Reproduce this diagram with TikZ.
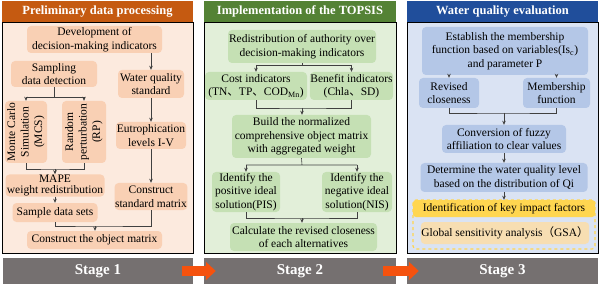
\documentclass[tikz,border=0pt]{standalone}
\usepackage{fontspec}
\setmainfont{Liberation Serif}
\newfontfamily\cjk{Noto Sans CJK SC}
\usetikzlibrary{arrows.meta}
\definecolor{orgT}{RGB}{197,90,17}
\definecolor{orgB}{RGB}{252,234,222}
\definecolor{orgN}{RGB}{249,208,180}
\definecolor{grnT}{RGB}{84,130,53}
\definecolor{grnB}{RGB}{226,239,217}
\definecolor{grnN}{RGB}{197,224,180}
\definecolor{bluT}{RGB}{32,78,155}
\definecolor{bluB}{RGB}{218,227,243}
\definecolor{bluN}{RGB}{180,199,231}
\definecolor{yelB}{RGB}{255,214,80}
\definecolor{tanN}{RGB}{247,222,178}
\definecolor{stgC}{RGB}{117,112,112}
\definecolor{arrC}{RGB}{245,82,14}
\tikzset{>={Stealth[length=4pt,width=3.5pt]},every node/.style={font=\fontsize{11.5}{13.5}\selectfont},
box/.style={rounded corners=4pt,align=center,inner sep=0.5pt},
obox/.style={box,fill=orgN},gbox/.style={box,fill=grnN},bbox/.style={box,fill=bluN},
ttl/.style={text=white,font=\fontsize{12.5}{14}\selectfont\bfseries,inner sep=0pt,minimum height=21pt},
stg/.style={fill=stgC,text=white,font=\fontsize{15}{17}\selectfont\bfseries,inner sep=0pt,minimum height=26pt},
flow/.style={->,line width=.6pt,draw=black!75},link/.style={line width=.6pt,draw=black!75},
bigarr/.style={-{Triangle[length=10pt,width=18pt]},line width=10pt,draw=arrC}}

\begin{document}
\begin{tikzpicture}[x=1pt,y=-1pt]
\useasboundingbox (0,0) rectangle (600,286);
% panels
\filldraw[fill=orgB,draw=black,line width=.7pt] (2,22) rectangle (193,253);
\filldraw[fill=grnB,draw=black,line width=.7pt] (204,22) rectangle (396,253);
\filldraw[fill=bluB,draw=black,line width=.7pt] (407,22) rectangle (598,253);
\node[ttl,fill=orgT,minimum width=191pt] (t1) at (97.5,11.5) {Preliminary data processing};
\node[ttl,fill=grnT,minimum width=192pt] (t2) at (300,11.5) {Implementation of the TOPSIS};
\node[ttl,fill=bluT,minimum width=191pt] (t3) at (502.5,11.5) {Water quality evaluation};
% stage 1
\node[obox,minimum width=135pt,minimum height=27pt] (dev) at (94.5,39.5) {Development of\\decision-making indicators};
\node[obox,minimum width=86pt,minimum height=26pt] (samp) at (54,74) {Sampling\\data detection};
\node[obox,minimum width=66pt,minimum height=28pt] (wqs) at (151,84) {Water quality\\standard};
\node[obox,minimum width=42pt,minimum height=62pt] (mcs) at (26,132) {\rotatebox{90}{\begin{tabular}{@{}c@{}}Monte Carlo\\Simulation\\(MCS)\end{tabular}}};
\node[obox,minimum width=44pt,minimum height=62pt] (rp) at (84,132) {\rotatebox{90}{\begin{tabular}{@{}c@{}}Random\\perturbation\\(RP)\end{tabular}}};
\node[obox,minimum width=70pt,minimum height=27pt] (eut) at (151,135.5) {Eutrophication\\levels I-V};
\node[obox,minimum width=99pt,minimum height=21pt,font=\fontsize{11.5}{11}\selectfont] (mape) at (55,185.5) {MAPE\\weight redistribution};
\node[obox,minimum width=72pt,minimum height=27pt] (csm) at (151,196.5) {Construct\\standard matrix};
\node[obox,minimum width=85pt,minimum height=19pt] (sds) at (55,212.5) {Sample data sets};
\node[obox,minimum width=135pt,minimum height=18pt] (com) at (94.5,240) {Construct the object matrix};
\coordinate (f1) at (54,97);\coordinate (f2) at (55,169);\coordinate (f3) at (95,226);
\draw[flow] (dev.south -| wqs) -- (wqs.north);
\draw[link] (samp.south) -- (f1) (f1 -| mcs) -- (f1 -| rp);
\draw[flow] (f1 -| mcs) -- (mcs.north);\draw[flow] (f1 -| rp) -- (rp.north);
\draw[link] (mcs.south) |- (f2) -| (rp.south);\draw[flow] (f2) -- (f2 |- mape.north);
\draw[flow] (mape.south) -- (mape.south |- sds.north);
\draw[flow] (wqs.south) -- (wqs.south |- eut.north);\draw[flow] (eut.south) -- (eut.south |- csm.north);
\draw[link] (sds.south) |- (f3) -| (csm.south);\draw[flow] (f3) -- (f3 |- com.north);
% stage 2
\node[gbox,minimum width=148pt,minimum height=33pt] (red) at (302,46.5) {Redistribution of authority over\\decision-making indicators};
\node[gbox,minimum width=102pt,minimum height=28pt] (cost) at (256,86) {Cost indicators\\(TN{\cjk 、}TP{\cjk 、}COD\textsubscript{Mn})};
\node[gbox,minimum width=83pt,minimum height=28pt] (ben) at (351.5,86) {Benefit indicators\\(Chla{\cjk 、}SD)};
\node[gbox,minimum width=139pt,minimum height=43pt] (bld) at (301.5,136.5) {Build the normalized\\comprehensive object matrix\\with aggregated weight};
\node[gbox,minimum width=68pt,minimum height=40pt] (pis) at (246,192) {Identify the\\positive ideal\\solution(PIS)};
\node[gbox,minimum width=70pt,minimum height=40pt] (nis) at (357,192) {Identify the\\negative ideal\\solution(NIS)};
\node[gbox,minimum width=147pt,minimum height=28pt] (cal) at (303.5,237) {Calculate the revised closeness\\of each alternatives};
\coordinate (g1) at (302,65);\coordinate (g2) at (302,108);\coordinate (g3) at (302,165);\coordinate (g4) at (302,218);
\draw[link] (red.south) -- (g1) (g1 -| cost) -- (g1 -| ben);
\draw[flow] (g1 -| cost) -- (cost.north);\draw[flow] (g1 -| ben) -- (ben.north);
\draw[link] (cost.south) |- (g2) -| (ben.south);\draw[flow] (g2) -- (g2 |- bld.north);
\draw[link] (bld.south) -- (g3) (g3 -| pis) -- (g3 -| nis);
\draw[flow] (g3 -| pis) -- (pis.north);\draw[flow] (g3 -| nis) -- (nis.north);
\draw[link] (pis.south) |- (g4) -| (nis.south);\draw[flow] (g4) -- (g4 |- cal.north);
% stage 3
\node[bbox,minimum width=166pt,minimum height=48pt] (est) at (505,51) {Establish the membership\\function based on variables(Is\textsubscript{c})\\and parameter P};
\node[bbox,minimum width=60pt,minimum height=30pt] (rcl) at (449,93) {Revised\\closeness};
\node[bbox,minimum width=67pt,minimum height=30pt] (mbf) at (556.5,93) {Membership\\function};
\node[bbox,minimum width=124pt,minimum height=28pt] (cnv) at (504,139) {Conversion of fuzzy\\affiliation to clear values};
\node[bbox,minimum width=167pt,minimum height=29pt] (det) at (504,177.5) {Determine the water quality level\\based on the distribution of Qi};
\draw[dashed,draw=yelB,line width=1.2pt,rounded corners=3pt] (413,200) rectangle (595,249);
\node[fill=yelB,rounded corners=3pt,minimum width=182pt,minimum height=17pt,inner sep=0pt] (key) at (504,208.5) {Identification of key impact factors};
\node[box,fill=tanN,minimum width=166pt,minimum height=22pt] (gsa) at (505,233) {Global sensitivity analysis{\cjk （}GSA{\cjk ）}};
\coordinate (h1) at (504,113);
\draw[flow] (est.south -| rcl) -- (rcl.north);\draw[flow] (est.south -| mbf) -- (mbf.north);
\draw[link] (rcl.south) |- (h1) -| (mbf.south);\draw[flow] (h1) -- (h1 |- cnv.north);
\draw[flow] (cnv.south) -- (cnv.south |- det.north);\draw[flow] (det.south) -- (det.south |- key.north);
% stage bars
\node[stg,minimum width=190pt] (st1) at (98,271) {Stage 1};
\node[stg,minimum width=192pt] (st2) at (300,271) {Stage 2};
\node[stg,minimum width=191pt] (st3) at (502.5,271) {Stage 3};
\draw[bigarr] ([xshift=-11pt]st1.east) -- ([xshift=12pt]st2.west);
\draw[bigarr] ([xshift=-13pt]st2.east) -- ([xshift=12pt]st3.west);
\end{tikzpicture}
\end{document}
